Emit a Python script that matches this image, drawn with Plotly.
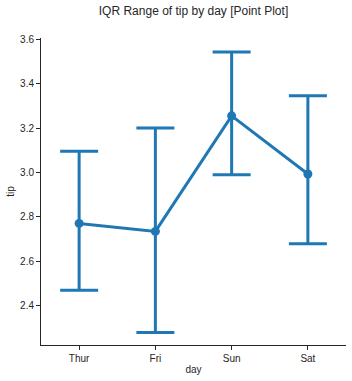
import plotly.graph_objects as go

days = ["Thur", "Fri", "Sun", "Sat"]
mean_tip = [2.771, 2.735, 3.255, 2.993]
upper = [3.095, 3.200, 3.542, 3.345]
lower = [2.470, 2.280, 2.990, 2.680]

err_plus = [u - m for u, m in zip(upper, mean_tip)]
err_minus = [m - l for m, l in zip(mean_tip, lower)]

blue = "#1f77b4"
txt = "#262626"
font = "Liberation Sans, Arial, sans-serif"

fig = go.Figure()
fig.add_trace(go.Scatter(
    x=days, y=mean_tip, mode="lines+markers",
    line=dict(color=blue, width=3),
    marker=dict(color=blue, size=9),
    error_y=dict(type="data", symmetric=False, array=err_plus, arrayminus=err_minus,
                 color=blue, thickness=3, width=19),
    showlegend=False,
))

fig.update_layout(
    width=352, height=381,
    margin=dict(l=41, r=6, t=38, b=36),
    paper_bgcolor="white", plot_bgcolor="white",
    font=dict(family=font, color=txt, size=10),
    title=dict(text="IQR Range of tip by day [Point Plot]", x=0.5, xanchor="center",
               xref="paper", y=1 - 11 / 381, yref="container", yanchor="middle",
               font=dict(size=12, color=txt)),
)
fig.update_xaxes(
    type="category", range=[-0.5, 3.5], showgrid=False, zeroline=False,
    showline=True, linecolor=txt, linewidth=1,
    ticks="outside", ticklen=4, tickcolor=txt, tickwidth=1,
    title=dict(text="day", standoff=2, font=dict(size=10)),
)
fig.update_yaxes(
    range=[2.224, 3.605], showgrid=False, zeroline=False,
    showline=True, linecolor=txt, linewidth=1,
    ticks="outside", ticklen=4, tickcolor=txt, tickwidth=1,
    tickvals=[2.4, 2.6, 2.8, 3.0, 3.2, 3.4, 3.6],
    ticktext=["2.4", "2.6", "2.8", "3.0", "3.2", "3.4", "3.6"],
    title=dict(text="tip", standoff=3, font=dict(size=10)),
)

fig.write_html("out.html")
